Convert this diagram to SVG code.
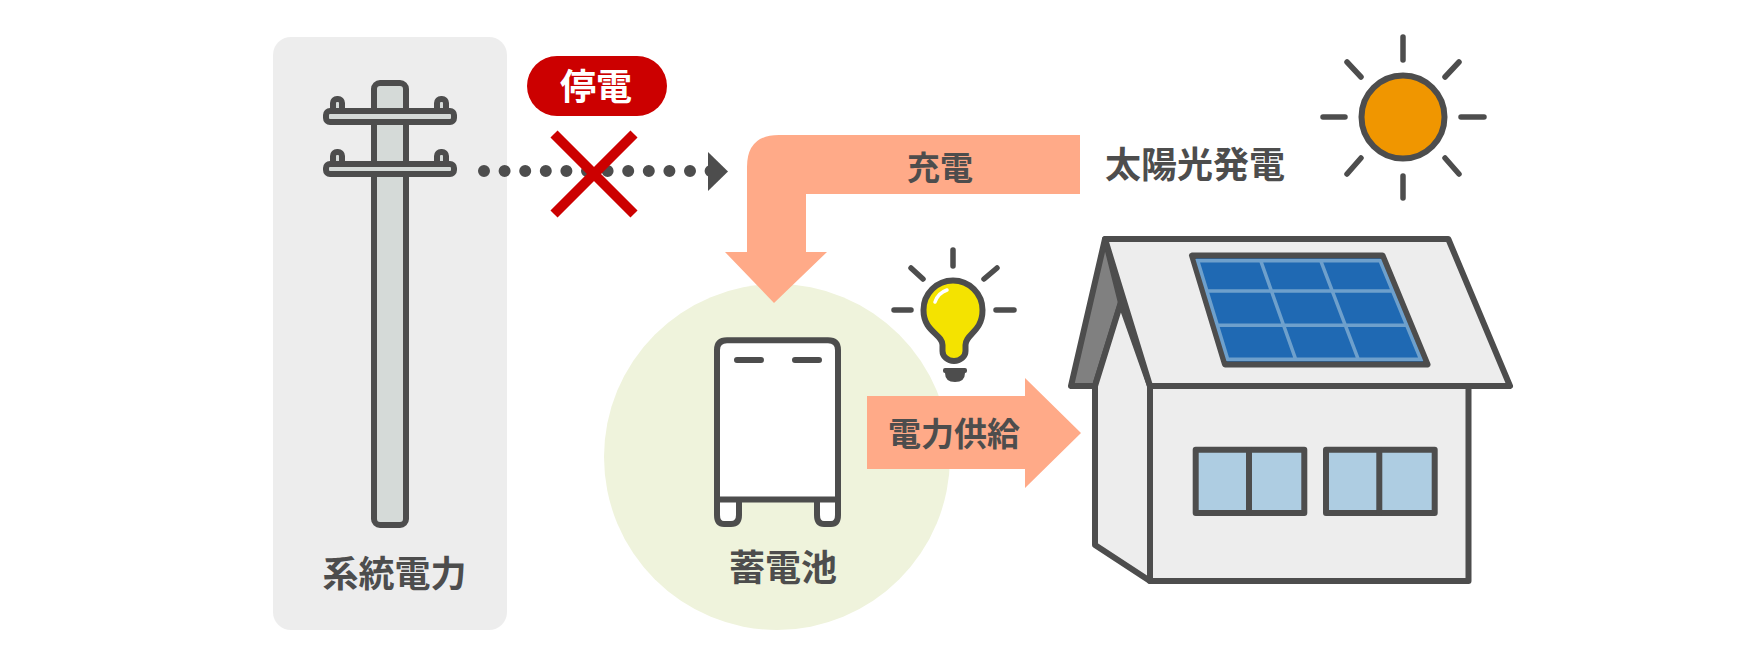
<svg xmlns="http://www.w3.org/2000/svg" width="1760" height="668" viewBox="0 0 1760 668">
<style>
.t{font-family:"Noto Sans CJK JP","Noto Sans",sans-serif;font-weight:700;fill:#4d4d4d;text-anchor:middle}
.s{stroke:#4d4d4d;stroke-width:6;stroke-linejoin:round;stroke-linecap:round}
.ray{stroke:#4d4d4d;stroke-width:5.5;stroke-linecap:round;fill:none}
.arrow{fill:#ffaa88}
.pole{fill:#d5dad8}
.wall{fill:#ededed}
.glass{fill:#aecde2}
.grid{stroke:#6ea0cc;stroke-width:3.5;fill:none}
</style>
<rect width="1760" height="668" fill="#fff"/>
<g id="grid-power">
<rect x="273" y="37" width="234" height="593" rx="18" fill="#ededed"/>
<rect class="s pole" x="374" y="83" width="32" height="442" rx="6"/>
<rect class="s pole" x="333" y="99" width="9" height="14" rx="4"/>
<rect class="s pole" x="437" y="99" width="9" height="14" rx="4"/>
<rect class="s pole" x="333" y="152" width="9" height="14" rx="4"/>
<rect class="s pole" x="437" y="152" width="9" height="14" rx="4"/>
<rect class="s pole" x="326" y="111" width="128" height="11" rx="4"/>
<rect class="s pole" x="326" y="164" width="128" height="10" rx="4"/>
<text class="t" x="394.500" y="587" font-size="36">系統電力</text>
</g>
<g id="battery-circle"><circle cx="777" cy="457" r="173" fill="#eff3dc"/></g>
<g id="connectors">
<line x1="484" y1="171" x2="711" y2="171" stroke="#4d4d4d" stroke-width="12" stroke-linecap="round" stroke-dasharray="0 20.6"/>
<polygon points="708,152 728,171.500 708,191" fill="#4d4d4d"/>
<path class="arrow" d="M1080 135V194H806V252H827L774 303L725 252H747V167Q747 135 779 135Z"/>
<text class="t" x="940" y="180" font-size="33">充電</text>
<polygon class="arrow" points="867,396 1025,396 1025,378 1081,433 1025,488 1025,469 867,469"/>
<text class="t" x="954" y="446" font-size="33">電力供給</text>
</g>
<g id="outage">
<rect x="527" y="56" width="140" height="60" rx="30" fill="#cc0000"/>
<text x="596" y="100" font-size="36" font-family="'Noto Sans CJK JP','Noto Sans',sans-serif" font-weight="700" fill="#fff" text-anchor="middle">停電</text>
<path d="M554 134L634 214M634 134L554 214" stroke="#cc0000" stroke-width="10" fill="none"/>
</g>
<g id="solar-label"><text class="t" x="1195" y="178" font-size="36">太陽光発電</text></g>
<g id="sun">
<circle cx="1403" cy="117" r="41.500" fill="#f09600" stroke="#4d4d4d" stroke-width="6"/>
<path class="ray" d="M1403 37V60M1403 176V198M1323 117H1345M1461 117H1484M1347 62L1361 77M1459 62L1445 77M1361 158L1347 174M1445 158L1459 174"/>
</g>
<g id="battery">
<path class="s" fill="#fff" d="M717 499.500V350Q717 340.300 727 340.300H828Q838 340.300 838 350V499.500ZM717 499.500H739V515Q739 524 731 524H724Q717 524 717 515ZM817 499.500H838V515Q838 524 831 524H824Q817 524 817 515Z"/>
<path class="s" fill="none" d="M737 360H761M795 360H819"/>
<text class="t" x="783" y="581" font-size="36">蓄電池</text>
</g>
<g id="bulb">
<path class="s" fill="#f4e300" d="M942.500 345C942.500 334 923.500 332 923.500 310A29.500 29.500 0 0 1 982.500 310C982.500 332 965.500 334 965.500 345V351A11.500 10 0 0 1 942.500 351Z"/>
<path d="M935 302Q938 293 947 290" stroke="#fff" stroke-width="3.500" stroke-linecap="round" fill="none"/>
<path fill="#4d4d4d" d="M945 368H965Q967 368 967 370V371Q967 373 965 373Q965 382 955 382Q945 382 945 373Q943 373 943 371V370Q943 368 945 368Z"/>
<path class="ray" d="M953 250V266M911 268L923 279M997 268L984 279M894 310H911M996 310H1014"/>
</g>
<g id="house">
<path class="s" fill="#808080" d="M1105 239L1071 386H1095L1121 303Z"/>
<path class="s wall" d="M1095 386L1120.700 303L1150 386V581L1095 545Z"/>
<rect class="s wall" x="1150" y="386" width="318.500" height="195"/>
<path class="s wall" d="M1105 239H1448.300L1510 386H1150Z"/>
<polygon points="1192,255.500 1382.500,255.500 1427.500,364.500 1225,364.500" fill="#1f69b3" stroke="#4d4d4d" stroke-width="6" stroke-linejoin="round"/>
<path class="grid" d="M1197.700 260.700H1380L1420.700 359.300H1227.700ZM1207.500 291H1392.500M1218 325.300H1406.500M1260.700 260.700L1295.700 359.300M1320.700 260.700L1358.300 359.300"/>
<rect class="s glass" x="1195.700" y="449.700" width="108.600" height="63.300"/>
<rect class="s glass" x="1326" y="449.700" width="108.700" height="63.300"/>
<path class="s" fill="none" d="M1249 450V513M1379.300 450V513"/>
</g>
</svg>
